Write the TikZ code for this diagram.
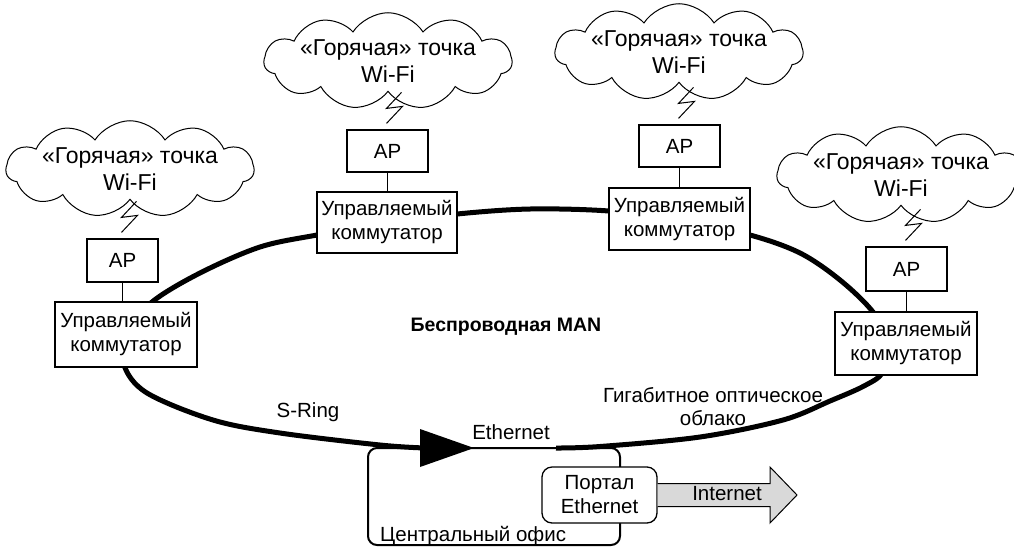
\documentclass[tikz,border=0pt]{standalone}
\usepackage{fontspec}
\setmainfont{Liberation Sans}
\usetikzlibrary{shapes.symbols,calc}
\begin{document}
\begin{tikzpicture}[x=1pt,y=-1pt,
  box/.style={draw, line width=1.2pt, fill=white, inner sep=0pt, align=center, font=\fontsize{20.5}{24}\selectfont},
  apbox/.style={box, minimum width=81pt, minimum height=42pt},
  swbox/.style={box, minimum width=141pt, minimum height=63pt},
  hot/.style={cloud, cloud puffs=11, cloud puff arc=115, cloud ignores aspect, draw, line width=1pt, fill=white, minimum width=230pt, minimum height=72pt, inner sep=0pt, align=center, font=\fontsize{23}{27}\selectfont},
  bolt/.style={line width=1pt},
  lbl/.style={font=\fontsize{20.5}{23}\selectfont, align=center, inner sep=0pt},
  ringline/.style={line width=5pt},
]
\useasboundingbox (0,0) rectangle (1014,547);

% central office
\draw[line width=2pt, rounded corners=9pt] (368,448) rectangle (620,545);
\node[lbl, anchor=west] (office) at (380,536) {Центральный офис};

% ring
\draw[ringline] plot[smooth, tension=0.55] coordinates {(556,448) (600,446.5) (700,437) (783,420) (830,401) (864,386) (883,372) (889,343) (873,312) (840,280) (800,253) (750,235) (680,220) (609,211) (530,209) (457,214) (387,223) (317,235) (260,247) (200,273) (152,302) (127,333) (124,365) (147,393) (213,420) (280,433) (380,445) (425,448)};
\fill (420,429) -- (474,448) -- (420,467) -- cycle;
\draw[line width=2pt] (470,448) -- (558,448);

% labels on ring
\node[font=\bfseries\fontsize{19.5}{22}\selectfont, inner sep=0pt] (man) at (506,327) {Беспроводная MAN};
\node[lbl] (sring) at (308,412) {S-Ring};
\node[lbl] (eth) at (511,432) {Ethernet};
\node[lbl] (giga) at (713,407) {Гигабитное оптическое\\облако};

% column 1
\node[hot] (c1) at (130,169) {«Горячая» точка\\Wi-Fi};
\node[apbox, minimum width=71pt, minimum height=43pt] (ap1) at (122.5,260.5) {AP};
\node[swbox, minimum width=142pt, minimum height=65pt] (sw1) at (126,334.5) {Управляемый\\коммутатор};
% column 2
\node[hot] (c2) at (388,61) {«Горячая» точка\\Wi-Fi};
\node[apbox] (ap2) at (387.5,151) {AP};
\node[swbox, minimum width=140pt, minimum height=61pt] (sw2) at (387,222.5) {Управляемый\\коммутатор};
% column 3
\node[hot] (c3) at (679,52) {«Горячая» точка\\Wi-Fi};
\node[apbox] (ap3) at (679.5,146) {AP};
\node[swbox, minimum height=62pt] (sw3) at (679.5,219) {Управляемый\\коммутатор};
% column 4
\node[hot] (c4) at (901,175) {«Горячая» точка\\Wi-Fi};
\node[apbox, minimum height=44pt] (ap4) at (906.5,269) {AP};
\node[swbox, minimum width=142pt] (sw4) at (906,343.5) {Управляемый\\коммутатор};

\foreach \i in {1,2,3,4}{
  \draw[line width=1pt] (ap\i.south) -- (ap\i.south |- sw\i.north);
  \draw[bolt] ($(ap\i.north)+(14,-37)$) -- ++(-15,16) -- ++(16,-2) -- ++(-16,17);
}

% portal and internet arrow
\node[box, rounded corners=10pt, line width=1.3pt, minimum width=115pt, minimum height=56pt] (portal) at (599.5,495) {Портал\\Ethernet};
\draw[fill=gray!30, line width=1pt] ($(portal.east)+(0,-11.5)$) -- (770,483.5) -- (770,467) -- (797,495) -- (770,523) -- (770,506.5) -- ($(portal.east)+(0,11.5)$);
\node[lbl] (inet) at (727,494) {Internet};
\end{tikzpicture}
\end{document}
